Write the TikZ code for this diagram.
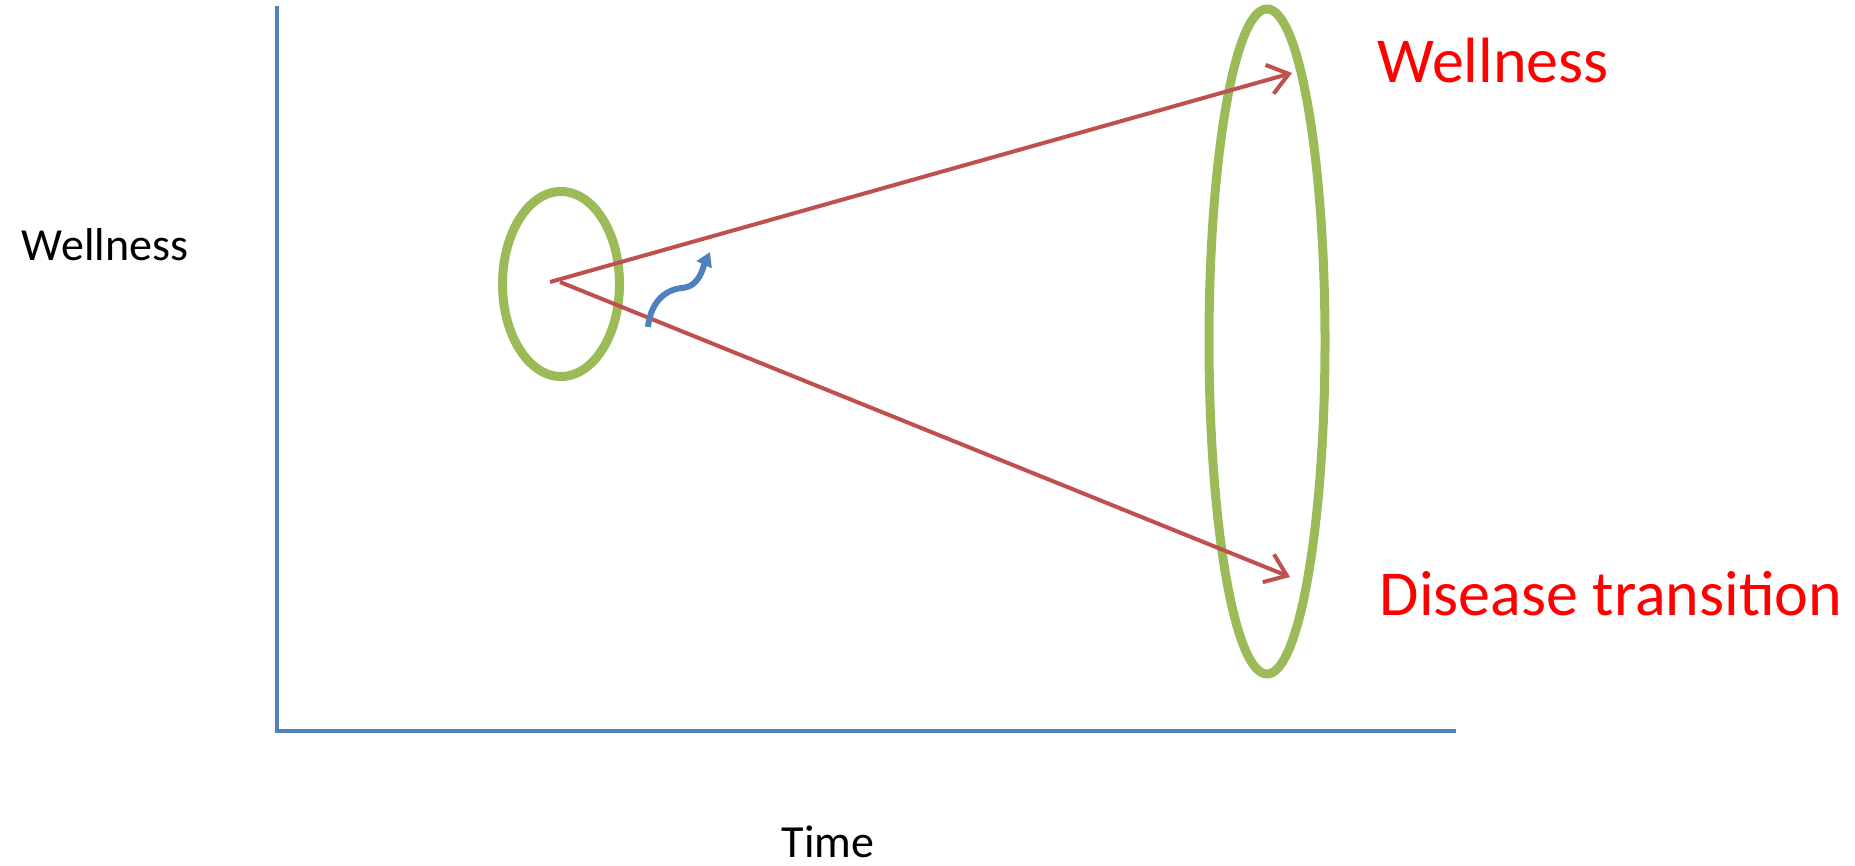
\documentclass[tikz,border=0pt]{standalone}
\usepackage{fontspec}
\setmainfont{Carlito}
\usetikzlibrary{arrows.meta,shapes.geometric}
\definecolor{axisblue}{RGB}{79,129,189}
\definecolor{arrowred}{RGB}{192,80,77}
\definecolor{ringgreen}{RGB}{155,187,89}

\begin{document}
\begin{tikzpicture}[x=0.5pt,y=-0.5pt,
    axis/.style={line width=2.25pt, axisblue},
    trend/.style={line width=2pt, arrowred, -{Straight Barb[length=10pt,width=15pt,line width=2pt]}},
    ring/.style={ellipse, draw=ringgreen, line width=4.5pt, inner sep=0pt},
    lbl/.style={font=\fontsize{23}{28}\selectfont, anchor=base},
    outcome/.style={font=\fontsize{32}{38}\selectfont, text=red, anchor=base}]
  \useasboundingbox (0,0) rectangle (1855,866);
  % axes
  \coordinate (top) at (277,6);
  \coordinate (origin) at (277,731);
  \coordinate (right) at (1456,731);
  \draw[axis] (top) -- (origin) -- (right);
  \node[lbl] (ylab) at (105,260) {Wellness};
  \node[lbl] (xlab) at (828,857) {Time};
  % rings
  \node[ring, minimum width=58.5pt, minimum height=92.5pt] (now) at (561,284) {};
  \node[ring, minimum width=58pt, minimum height=332.5pt] (later) at (1267,341.5) {};
  % trajectories
  \coordinate (s1) at (550,282);
  \coordinate (s2) at (560,282);
  \coordinate (good) at (1292,73);
  \coordinate (bad) at (1290,577);
  \draw[trend] (s1) -- (good);
  \draw[trend] (s2) -- (bad);
  \node[outcome] (well) at (1493,83) {Wellness};
  \node[outcome] (disease) at (1611,615) {Disease transition};
  % nudge
  \coordinate (n0) at (648,327);
  \coordinate (nmid) at (682,288);
  \coordinate (n1) at (710,252);
  \draw[line width=3pt, axisblue, -{Triangle[length=7pt,width=8pt]}] (n0) to[out=85,in=185] (nmid) to[out=5,in=-115] (n1);
\end{tikzpicture}
\end{document}
